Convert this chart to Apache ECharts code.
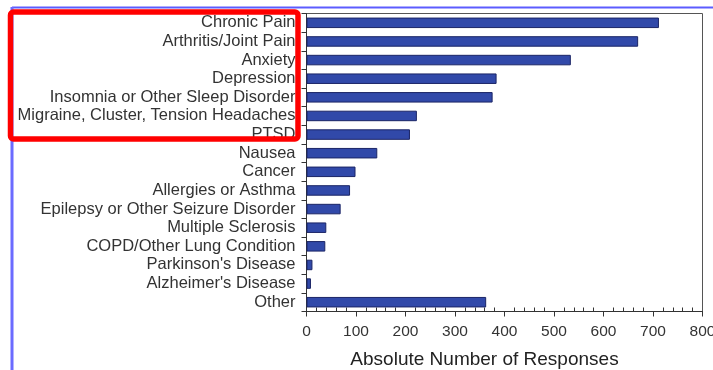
<!DOCTYPE html>
<html>
<head>
<meta charset="utf-8">
<script src="https://cdn.jsdelivr.net/npm/echarts@6/dist/echarts.min.js"></script>
<style>
  html, body { margin: 0; padding: 0; background: #fff; }
  #chart { width: 713px; height: 370px; }
</style>
</head>
<body>
<div id="chart"></div>
<script>
// Conditions reported, top to bottom
const conditions = [
  'Chronic Pain',
  'Arthritis/Joint Pain',
  'Anxiety',
  'Depression',
  'Insomnia or Other Sleep Disorder',
  'Migraine, Cluster, Tension Headaches',
  'PTSD',
  'Nausea',
  'Cancer',
  'Allergies or Asthma',
  'Epilepsy or Other Seizure Disorder',
  'Multiple Sclerosis',
  'COPD/Other Lung Condition',
  "Parkinson's Disease",
  "Alzheimer's Disease",
  'Other'
];

// Absolute number of responses per condition
const responses = [712, 670, 534, 384, 376, 223, 209, 143, 99, 88, 69, 40, 38, 12, 9, 363];

// Value-axis tick labels
const xTicks = [0, 100, 200, 300, 400, 500, 600, 700, 800];

const chart = echarts.init(document.getElementById('chart'));
const font = '"Liberation Sans", Arial, Helvetica, sans-serif';

chart.setOption({
  animation: false,
  grid: {
    left: 306.5, right: 10.5, top: 13.5, bottom: 58.5,
    outerBoundsMode: 'none',
    show: true, borderColor: '#555', borderWidth: 1, backgroundColor: 'transparent'
  },
  xAxis: {
    type: 'value',
    min: xTicks[0],
    max: xTicks[xTicks.length - 1],
    interval: 100,
    name: 'Absolute Number of Responses',
    nameLocation: 'middle',
    nameGap: 39,
    nameTextStyle: { fontFamily: font, fontSize: 19, color: '#222', padding: [0, 40, 0, 0] },
    axisLine: { show: true, lineStyle: { color: '#333', width: 1 } },
    axisTick: { show: true, length: 5, lineStyle: { color: '#333' } },
    minorTick: { show: true, splitNumber: 5, length: -4, lineStyle: { color: '#333' } },
    splitLine: { show: false },
    axisLabel: {
      fontFamily: font, fontSize: 15.5, color: '#333', margin: 12,
      formatter: v => xTicks.includes(v) ? String(v) : ''
    }
  },
  yAxis: {
    type: 'category',
    data: conditions,
    inverse: true,
    axisLine: { show: true, lineStyle: { color: '#333', width: 1 } },
    axisTick: { show: true, length: 5, lineStyle: { color: '#333' } },
    axisLabel: { fontFamily: font, fontSize: 16.5, color: '#333', margin: 11, interval: 0 },
    splitLine: { show: false }
  },
  series: [{
    type: 'bar',
    data: responses,
    barWidth: 10.5,
    itemStyle: { color: '#3149a9', borderColor: '#1b2566', borderWidth: 1 }
  }],
  graphic: [
    // frame lines along the top and left edges
    { type: 'line', shape: { x1: 12, y1: 7.5, x2: 713, y2: 7.5 }, style: { stroke: '#5c5cff', lineWidth: 2 } },
    { type: 'line', shape: { x1: 12, y1: 7, x2: 12, y2: 370 }, style: { stroke: '#6b6bff', lineWidth: 3 } },
    // highlight box around the leading categories
    {
      type: 'rect',
      shape: { x: 10.5, y: 12, width: 287.5, height: 127, r: 3 },
      style: { fill: 'none', stroke: '#ff0000', lineWidth: 5.5 },
      z: 100
    }
  ]
});
</script>
</body>
</html>
